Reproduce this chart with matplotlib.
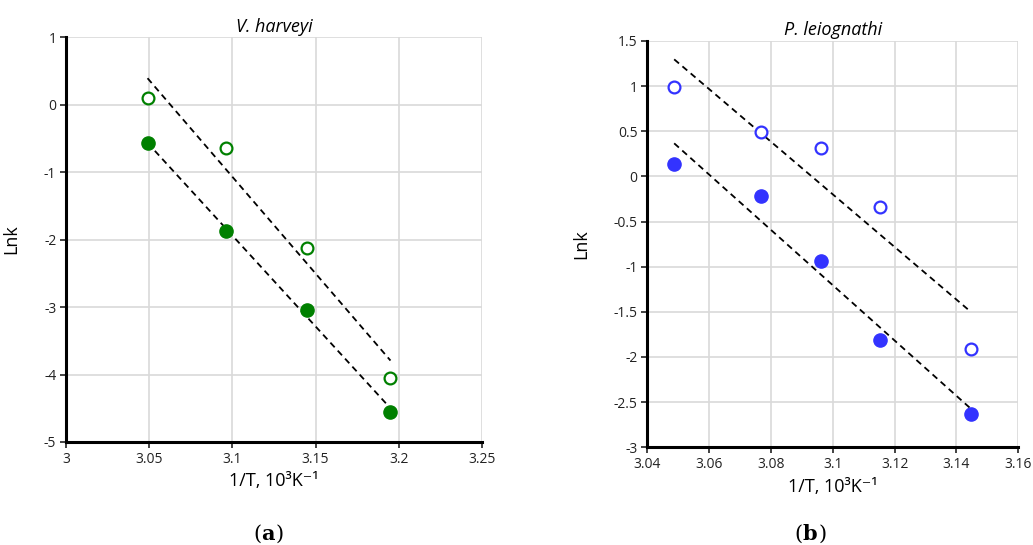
import matplotlib
matplotlib.use("Agg")
import matplotlib.pyplot as plt
import numpy as np

# V. harveyi
vh_x = [3.049, 3.096, 3.145, 3.195]
vh_open = [0.10, -0.65, -2.12, -4.05]
vh_filled = [-0.575, -1.88, -3.04, -4.56]

# P. leiognathi
pl_x = [3.0487, 3.0769, 3.0961, 3.1153, 3.1447]
pl_open = [0.99, 0.49, 0.315, -0.34, -1.915]
pl_filled = [0.14, -0.22, -0.94, -1.815, -2.63]

vh_xticks = [3, 3.05, 3.1, 3.15, 3.2, 3.25]
vh_yticks = [1, 0, -1, -2, -3, -4, -5]
pl_xticks = [3.04, 3.06, 3.08, 3.1, 3.12, 3.14, 3.16]
pl_yticks = [1.5, 1, 0.5, 0, -0.5, -1, -1.5, -2, -2.5, -3]

plt.rcParams['font.family'] = ['Open Sans', 'DejaVu Sans']

fig = plt.figure(figsize=(10.33, 5.45), dpi=100)
ax1 = fig.add_axes([0.0639, 0.189, 0.4027, 0.743])
ax2 = fig.add_axes([0.6266, 0.1793, 0.3592, 0.7455])


def fmt(v):
    return f"{v:g}"


def draw(ax, x, y_open, y_filled, color, title, xticks, yticks):
    # trend lines (least squares)
    xs = np.array([x[0], x[-1]])
    for y in (y_open, y_filled):
        k, b = np.polyfit(x, y, 1)
        ax.plot(xs, k * xs + b, color="black", linestyle=(0, (3.5, 2.5)),
                linewidth=1.3, zorder=2)
    ax.plot(x, y_open, "o", markersize=8.5, markerfacecolor="white",
            markeredgecolor=color, markeredgewidth=1.6, zorder=3)
    ax.plot(x, y_filled, "o", markersize=9.5, color=color, zorder=3)

    ax.set_xlim(xticks[0], xticks[-1])
    ax.set_ylim(min(yticks), max(yticks))
    ax.set_xticks(xticks)
    ax.set_yticks(yticks)
    ax.set_xticklabels([fmt(v) for v in xticks])
    ax.set_yticklabels([fmt(v) for v in yticks])
    ax.grid(True, color="#d9d9d9", linewidth=1.2)
    ax.set_axisbelow(True)
    for s in ("top", "right"):
        ax.spines[s].set_visible(False)
    for s in ("left", "bottom"):
        ax.spines[s].set_linewidth(2.2)
        ax.spines[s].set_zorder(4)
    ax.tick_params(direction="out", length=4, width=1.2, labelsize=10,
                   colors="#222222", pad=3)
    ax.set_title(title, fontstyle="italic", fontsize=13, pad=4)
    ax.set_ylabel("Lnk", fontsize=13)
    ax.set_xlabel("1/T, 10³K⁻¹", fontsize=13, labelpad=4)


draw(ax1, vh_x, vh_open, vh_filled, "#008000", "V. harveyi", vh_xticks, vh_yticks)
draw(ax2, pl_x, pl_open, pl_filled, "#3333ff", "P. leiognathi", pl_xticks, pl_yticks)
ax1.yaxis.set_label_coords(-0.11, 0.5)
ax2.yaxis.set_label_coords(-0.155, 0.5)

lab = dict(fontsize=15, family="DejaVu Serif", va="baseline")
fig.text(0.253, 0.01, "(", ha="right", **lab)
fig.text(0.253, 0.01, "a", weight="bold", ha="left", **lab)
fig.text(0.267, 0.01, ")", ha="left", **lab)
fig.text(0.777, 0.01, "(", ha="right", **lab)
fig.text(0.777, 0.01, "b", weight="bold", ha="left", **lab)
fig.text(0.792, 0.01, ")", ha="left", **lab)

fig.savefig("out.png", dpi=100)
